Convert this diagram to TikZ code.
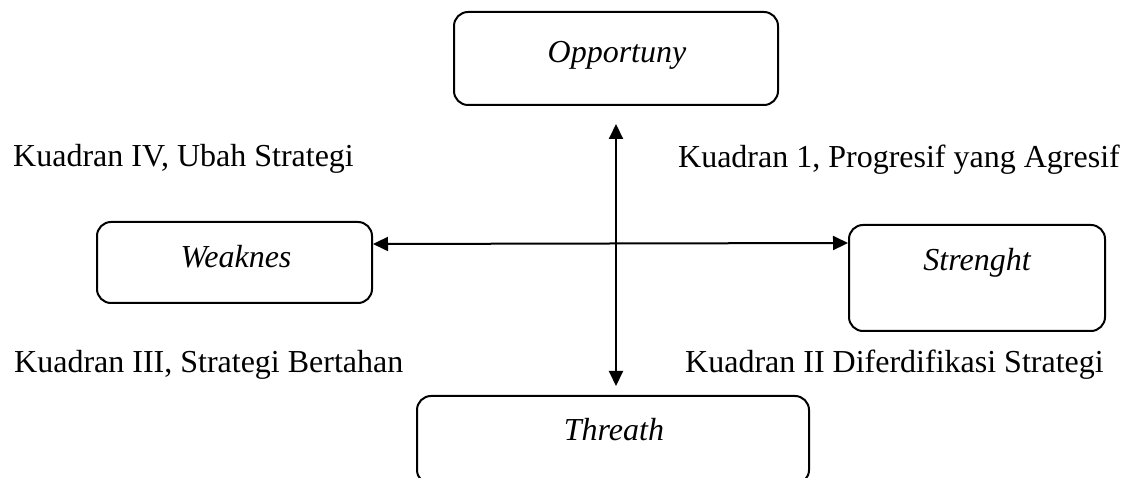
\documentclass[tikz,border=0pt]{standalone}
\usepackage{fontspec}
\setmainfont{Liberation Serif}
\usetikzlibrary{arrows.meta}
\begin{document}
\begin{tikzpicture}[x=1pt,y=-1pt,
  box/.style={draw=black, line width=2pt, rounded corners=14pt, rectangle, inner sep=0pt},
  lbl/.style={inner sep=0pt, font=\fontsize{32}{38}\selectfont},
  arr/.style={line width=2pt, {Triangle[length=15pt,width=14pt]}-{Triangle[length=15pt,width=14pt]}}]
\useasboundingbox (0,0) rectangle (1128,478);
\begin{scope}
\clip (0,0) rectangle (1128,478);
\node[box, minimum width=324pt, minimum height=93pt] (O) at (616,58.5) {};
\node[box, minimum width=275pt, minimum height=81pt] (W) at (234.5,262.5) {};
\node[box, minimum width=256pt, minimum height=106pt] (S) at (977,278) {};
\node[box, minimum width=392pt, minimum height=88pt] (T) at (613,440) {};
\end{scope}
\node[lbl, anchor=base] (Ot) at (617,63) {\itshape Opportuny};
\node[lbl, anchor=base] (Wt) at (236,268) {\itshape Weaknes};
\node[lbl, anchor=base] (St) at (977,271) {\itshape Strenght};
\node[lbl, anchor=base] (Tt) at (614,441) {\itshape Threath};
\node[lbl, anchor=base west] (q4) at (13,167) {Kuadran IV, Ubah Strategi};
\node[lbl, anchor=base east] (q1) at (1120,168) {Kuadran 1, Progresif yang Agresif};
\node[lbl, anchor=base west] (q3) at (14,373) {Kuadran III, Strategi Bertahan};
\node[lbl, anchor=base west] (q2) at (685,373) {Kuadran II Diferdifikasi Strategi};
\coordinate (vtop) at (616,124);
\coordinate (vbot) at (616,386);
\draw[arr] (vtop) -- (vbot);
\draw[arr] (W.east |- 0,244) -- (S.west |- 0,243);
\end{tikzpicture}
\end{document}
